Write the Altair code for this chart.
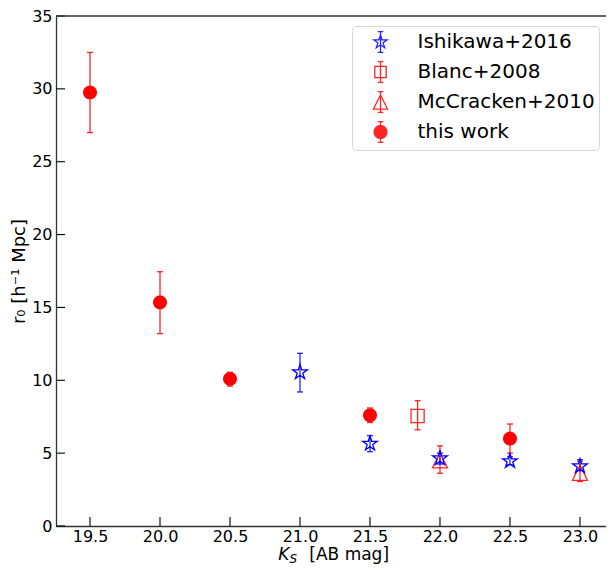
import math
import pandas as pd
import altair as alt

# ---------------- data ----------------
SERIES = ["Ishikawa+2016", "Blanc+2008", "McCracken+2010", "this work"]

ish_x = [21.0, 21.5, 22.0, 22.5, 23.0]
ish_y = [10.55, 5.65, 4.65, 4.45, 4.1]
ish_lo = [9.2, 5.1, 4.25, 4.2, 3.8]
ish_hi = [11.85, 6.2, 5.0, 4.75, 4.55]

blanc_x = [21.84]
blanc_y = [7.55]
blanc_lo = [6.6]
blanc_hi = [8.6]

mcc_x = [22.0, 23.0]
mcc_y = [4.5, 3.65]
mcc_lo = [3.62, 3.05]
mcc_hi = [5.5, 4.45]

tw_x = [19.5, 20.0, 20.5, 21.5, 22.5]
tw_y = [29.75, 15.35, 10.1, 7.6, 6.0]
tw_lo = [27.0, 13.2, 9.6, 7.1, 5.0]
tw_hi = [32.5, 17.45, 10.55, 8.1, 7.0]

x_ticks = [19.5, 20.0, 20.5, 21.0, 21.5, 22.0, 22.5, 23.0]
y_ticks = [0, 5, 10, 15, 20, 25, 30, 35]

rows = []
for name, xs, ys, los, his in [
    ("McCracken+2010", mcc_x, mcc_y, mcc_lo, mcc_hi),
    ("Blanc+2008", blanc_x, blanc_y, blanc_lo, blanc_hi),
    ("this work", tw_x, tw_y, tw_lo, tw_hi),
    ("Ishikawa+2016", ish_x, ish_y, ish_lo, ish_hi),
]:
    for a, b, c, d in zip(xs, ys, los, his):
        rows.append({"series": name, "x": a, "y": b, "lo": c, "hi": d})
df = pd.DataFrame(rows)
df_xt = pd.DataFrame({"v": x_ticks})
df_yt = pd.DataFrame({"v": y_ticks})
df_one = pd.DataFrame({"t": [0]})

# ---------------- styling ----------------
BLUE = "#0000ff"
RED = "#ff0000"
COLORS = [BLUE, RED, RED, RED]
FILLS = ["transparent", "transparent", "transparent", RED]
FONT = "DejaVu Sans"
W, H = 550, 510


def fmt(pts):
    return "M" + "L".join(f"{x:.3f},{y:.3f}" for x, y in pts) + "Z"


def star(R, r):
    pts = []
    for k in range(10):
        ang = -math.pi / 2 + k * math.pi / 5
        rad = R if k % 2 == 0 else r
        pts.append((rad * math.cos(ang), rad * math.sin(ang)))
    return fmt(pts)


def circle(r, n=40):
    return fmt([(r * math.cos(2 * math.pi * k / n), r * math.sin(2 * math.pi * k / n)) for k in range(n)])


def square(a):
    return fmt([(-a, -a), (a, -a), (a, a), (-a, a)])


def triangle(a):
    return fmt([(0, -a), (a, a), (-a, a)])


def errbar(e, c):
    return f"M0,{-e}L0,{e}M{-c},{-e}L{c},{-e}M{-c},{e}L{c},{e}"


EB = errbar(0.95, 0.25)
LEG_PATHS = [
    star(0.64, 0.25) + EB,
    square(0.52) + EB,
    triangle(0.64) + EB,
    circle(0.58) + EB,
]

xscale = alt.Scale(domain=[19.257, 23.186], nice=False, zero=False)
yscale = alt.Scale(domain=[0, 35], nice=False, zero=False)
stroke_scale = alt.Scale(domain=SERIES, range=COLORS)
fill_scale = alt.Scale(domain=SERIES, range=FILLS)

LEG = alt.Legend(
    title=None, orient="none", legendX=296, legendY=10, padding=4,
    symbolOffset=12.5, labelOffset=25, labelFontSize=20, labelFont=FONT,
    labelColor="black", symbolSize=484, symbolStrokeWidth=1.3, rowPadding=2,
    strokeColor="#d6d6d6", fillColor="white", cornerRadius=4, labelLimit=400,
)

AX = alt.Axis(
    values=x_ticks, format=".1f", title=None, grid=False, ticks=False,
    labelFontSize=16, labelFont=FONT, labelColor="black", labelPadding=15,
    labelBaseline="alphabetic", labelFlush=False, domainColor="#333", domainWidth=1.3,
)
AY = alt.Axis(
    values=y_ticks, title="r₀ [h⁻¹ Mpc]", grid=False, ticks=False,
    labelFontSize=16, labelFont=FONT, labelColor="black", labelPadding=4,
    domainColor="#333", domainWidth=1.3,
    titleFont=FONT, titleFontSize=18, titleFontWeight="normal", titleColor="black",
    titleX=-32, titleY=H / 2, titleAngle=270, titleAlign="center", titleBaseline="alphabetic",
)

# layers other than the axis layer leave axis/legend unspecified
Xn = alt.X("x:Q", scale=xscale)
Yn = alt.Y("y:Q", scale=yscale)
Sn = alt.Stroke("series:N", scale=stroke_scale)
Fn = alt.Fill("series:N", scale=fill_scale)

base = alt.Chart(df)

axes_layer = base.mark_point(opacity=0).encode(
    x=alt.X("x:Q", scale=xscale, axis=AX),
    y=alt.Y("y:Q", scale=yscale, axis=AY),
)

errbars = base.mark_rule(strokeWidth=1.3, opacity=0.85).encode(
    x=Xn, y=alt.Y("lo:Q", scale=yscale), y2="hi:Q", stroke=Sn
)
cap_lo = base.mark_point(shape="M-1,0L1,0", size=36, filled=False, strokeWidth=1.3, opacity=0.85).encode(
    x=Xn, y=alt.Y("lo:Q", scale=yscale), stroke=Sn
)
cap_hi = base.mark_point(shape="M-1,0L1,0", size=36, filled=False, strokeWidth=1.3, opacity=0.85).encode(
    x=Xn, y=alt.Y("hi:Q", scale=yscale), stroke=Sn
)

marker_defs = [
    ("McCracken+2010", triangle(1.07), 0.85),
    ("Blanc+2008", square(0.94), 0.85),
    ("this work", circle(0.9), 1.0),
    ("Ishikawa+2016", star(1.1, 0.42), 1.0),
]
markers = [
    base.transform_filter(alt.datum.series == name)
    .mark_point(shape=path, size=196, filled=True, strokeWidth=1.3, opacity=op)
    .encode(x=Xn, y=Yn, stroke=Sn, fill=Fn)
    for name, path, op in marker_defs
]

xticks = alt.Chart(df_xt).mark_rule(color="black", strokeWidth=1.1).encode(
    x=alt.X("v:Q", scale=xscale),
    y=alt.value(H), y2=alt.value(H - 9),
)
yticks = alt.Chart(df_yt).mark_rule(color="black", strokeWidth=1.1).encode(
    y=alt.Y("v:Q", scale=yscale),
    x=alt.value(0), x2=alt.value(9),
)
top_spine = alt.Chart(df_one).mark_rule(color="#333", strokeWidth=1.3).encode(
    x=alt.value(0), x2=alt.value(W), y=alt.value(0)
)

t1 = alt.Chart(df_one).mark_text(text="K", font=FONT, fontSize=17, fontStyle="italic", align="left",
                                 baseline="alphabetic", color="black").encode(x=alt.value(222.3), y=alt.value(544))
t2 = alt.Chart(df_one).mark_text(text="S", font=FONT, fontSize=12, fontStyle="italic", align="left",
                                 baseline="alphabetic", color="black").encode(x=alt.value(233.5), y=alt.value(546.5))
t3 = alt.Chart(df_one).mark_text(text="[AB mag]", font=FONT, fontSize=17, align="left",
                                 baseline="alphabetic", color="black").encode(x=alt.value(253.3), y=alt.value(544))

legend_layer = base.transform_filter(alt.datum.x < 0).mark_point(filled=True, strokeWidth=1.3, opacity=1).encode(
    x=Xn, y=Yn,
    shape=alt.Shape("series:N", scale=alt.Scale(domain=SERIES, range=LEG_PATHS), legend=LEG),
    stroke=alt.Stroke("series:N", scale=stroke_scale, legend=LEG),
    fill=alt.Fill("series:N", scale=fill_scale, legend=LEG),
)

chart = alt.layer(
    axes_layer, errbars, cap_lo, cap_hi, *markers, xticks, yticks, top_spine, t1, t2, t3, legend_layer
).properties(
    width=W, height=H,
    autosize=alt.AutoSizeParams(type="none"),
    padding={"left": 48, "top": 8, "right": 0, "bottom": 38},
    background="white",
).configure_view(stroke="transparent")

chart.save("out.html", embed_options={"renderer": "svg", "actions": False})
